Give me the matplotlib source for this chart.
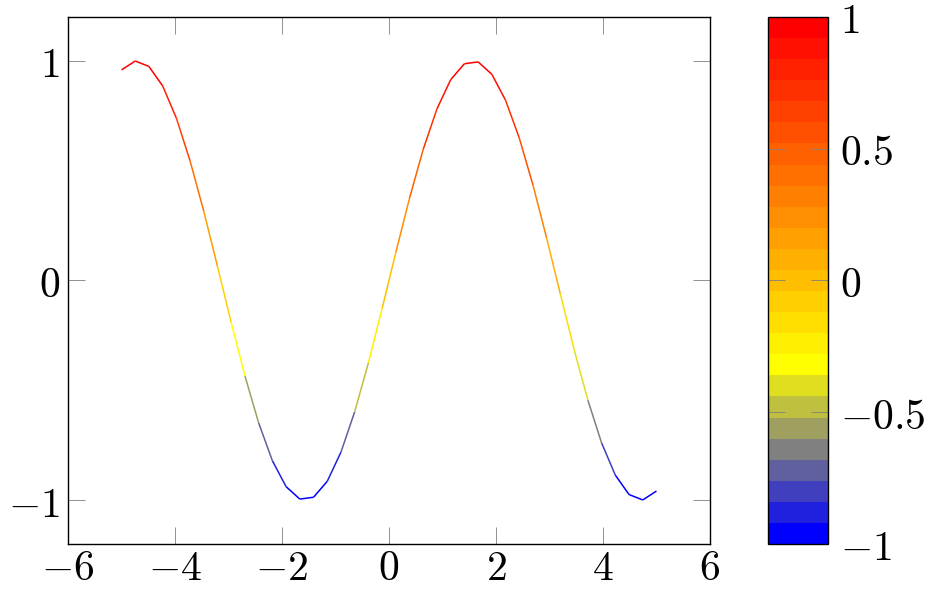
import numpy as np
import matplotlib
matplotlib.use('Agg')
from matplotlib import pyplot as plt
from matplotlib.collections import LineCollection
from matplotlib.colors import LinearSegmentedColormap, Normalize
from matplotlib import cm, ticker

# sample points (40 samples between -5 and 5)
xs = [-5.0000, -4.7436, -4.4872, -4.2308, -3.9744, -3.7179, -3.4615, -3.2051,
      -2.9487, -2.6923, -2.4359, -2.1795, -1.9231, -1.6667, -1.4103, -1.1538,
      -0.8974, -0.6410, -0.3846, -0.1282, 0.1282, 0.3846, 0.6410, 0.8974,
      1.1538, 1.4103, 1.6667, 1.9231, 2.1795, 2.4359, 2.6923, 2.9487,
      3.2051, 3.4615, 3.7179, 3.9744, 4.2308, 4.4872, 4.7436, 5.0000]
ys = [0.9589, 0.9995, 0.9748, 0.8863, 0.7398, 0.5449, 0.3151, 0.0634,
      -0.1917, -0.4343, -0.6486, -0.8208, -0.9389, -0.9955, -0.9872, -0.9146,
      -0.7817, -0.5980, -0.3752, -0.1279, 0.1279, 0.3752, 0.5980, 0.7817,
      0.9146, 0.9872, 0.9955, 0.9389, 0.8208, 0.6486, 0.4343, 0.1917,
      -0.0634, -0.3151, -0.5449, -0.7398, -0.8863, -0.9748, -0.9995, -0.9589]

xticks = [-6, -4, -2, 0, 2, 4, 6]
yticks = [-1, 0, 1]
cbticks = [-1, -0.5, 0, 0.5, 1]
map_colors = ['blue', 'yellow', (1.0, 0.5, 0.0), 'red']

plt.rcParams['mathtext.fontset'] = 'cm'
plt.rcParams['font.size'] = 30

cmap = LinearSegmentedColormap.from_list('byor', map_colors, N=25)
norm = Normalize(-1, 1)

fig = plt.figure(figsize=(9.3, 5.92), dpi=100)
ax = fig.add_axes([0.0731, 0.0811, 0.6903, 0.8902])

pts = np.column_stack([xs, ys])
segs = np.stack([pts[:-1], pts[1:]], axis=1)
meta = (np.array(ys[:-1]) + np.array(ys[1:])) / 2
lc = LineCollection(segs, cmap=cmap, norm=norm, linewidth=1.1)
lc.set_array(meta)
ax.add_collection(lc)

ax.set_xlim(-6, 6)
ax.set_ylim(-1.2, 1.2)
ax.set_xticks(xticks)
ax.set_yticks(yticks)
fmt = ticker.FuncFormatter(lambda v, p: '$%g$' % v)
ax.xaxis.set_major_formatter(fmt)
ax.yaxis.set_major_formatter(fmt)
ax.tick_params(direction='in', length=12.5, width=0.6, color='gray',
               top=True, right=True, pad=6)
ax.tick_params(axis='x', pad=2)
for s in ax.spines.values():
    s.set_linewidth(1.0)

cax = fig.add_axes([0.8258, 0.0811, 0.0645, 0.8902])
cb = fig.colorbar(cm.ScalarMappable(norm=norm, cmap=cmap), cax=cax)
cb.set_ticks(cbticks)
cax.yaxis.set_major_formatter(fmt)
cax.tick_params(direction='in', length=12.5, width=0.6, color='gray',
                left=True, right=True, pad=9)
cb.outline.set_linewidth(1.0)

plt.savefig('out.png', dpi=100)
